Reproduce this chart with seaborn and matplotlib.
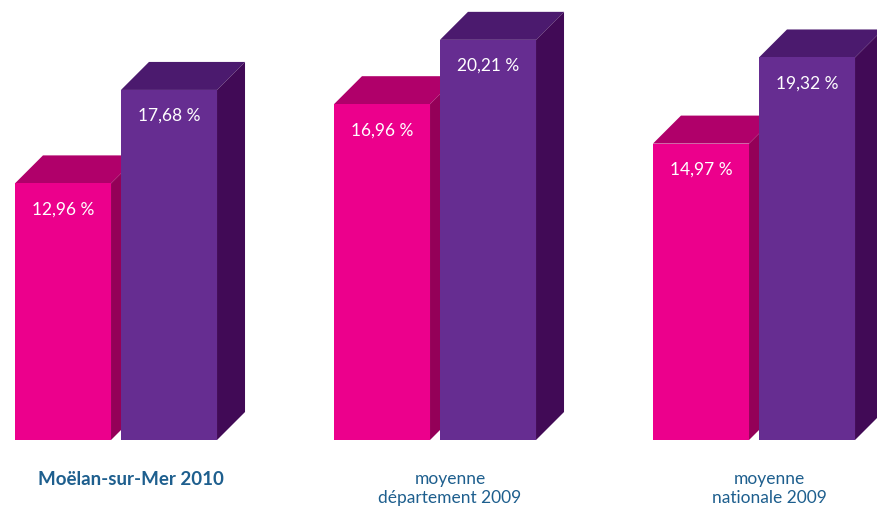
import pandas as pd
import seaborn as sns
import matplotlib.pyplot as plt
from matplotlib.patches import Polygon
from matplotlib.transforms import ScaledTranslation

# ================= données =================
categories = ["Moëlan-sur-Mer 2010", "moyenne\ndépartement 2009", "moyenne\nnationale 2009"]
series = ["serie1", "serie2"]
values_s1 = [12.96, 16.96, 14.97]
values_s2 = [17.68, 20.21, 19.32]

front_colors = ["#EC008C", "#662D91"]
top_colors = ["#B0006A", "#4B1A6E"]
side_colors = ["#940058", "#410A56"]
label_color = "#1E5F8E"
# ===========================================

df = pd.DataFrame({
    "cat": categories * 2,
    "serie": [series[0]] * 3 + [series[1]] * 3,
    "val": values_s1 + values_s2,
})

sns.set_theme(style="white")
plt.rcParams['font.family'] = ['Lato', 'DejaVu Sans']

fig = plt.figure(figsize=(8.77, 5.08), dpi=100)
ax = fig.add_axes([0, 68 / 508, 1, 440 / 508])

ax = sns.barplot(data=df, x="cat", y="val", hue="serie", palette=front_colors,
                 width=0.6646, gap=0.094, legend=False, saturation=1, ax=ax)

ax.set_xlim(-116 / 319, (877 - 116) / 319)
ax.set_ylim(0, 440 / 19.8)

# profondeur 3D (28 px)
dx = 28 / 319
dy = 28 / 19.8

n = len(categories)
for i, bar in enumerate(ax.patches[:2 * n]):
    s = i // n
    x, w, h = bar.get_x(), bar.get_width(), bar.get_height()
    bar.set_zorder(3 + 2 * s)
    bar.set_edgecolor("none")
    top = Polygon([(x, h), (x + dx, h + dy), (x + w + dx, h + dy), (x + w, h)],
                  closed=True, facecolor=top_colors[s], edgecolor="none",
                  zorder=2 + 2 * s, clip_on=False)
    side = Polygon([(x + w, 0), (x + w, h), (x + w + dx, h + dy), (x + w + dx, dy)],
                   closed=True, facecolor=side_colors[s], edgecolor="none",
                   zorder=2 + 2 * s, clip_on=False)
    ax.add_patch(top)
    ax.add_patch(side)
    txt = f"{h:.2f} %".replace(".", ",")
    ax.text(x + w / 2, h - 1.31, txt, ha="center", va="center", color="white",
            fontsize=12.5, fontweight="normal", zorder=10)

ax.set_xlabel("")
ax.set_ylabel("")
ax.set_yticks([])
for sp in ax.spines.values():
    sp.set_visible(False)

ax.tick_params(axis="x", length=0, pad=22, labelsize=12.5, labelcolor=label_color)
offset = ScaledTranslation(15 / 100, 0, fig.dpi_scale_trans)
for k, lab in enumerate(ax.get_xticklabels()):
    lab.set_transform(lab.get_transform() + offset)
    lab.set_linespacing(1.25)
    if k == 0:
        lab.set_fontweight("bold")
        lab.set_fontsize(13.5)

fig.savefig("out.png", dpi=100)
